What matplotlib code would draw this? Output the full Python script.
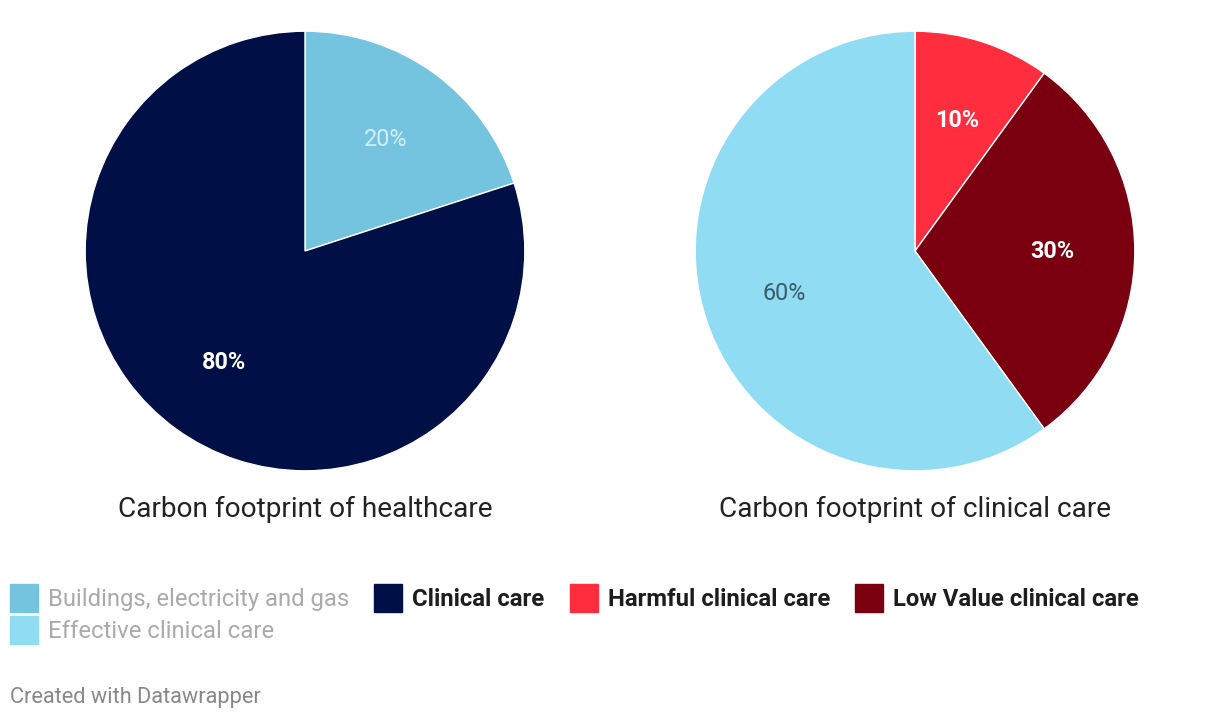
import matplotlib
matplotlib.use("Agg")
import matplotlib.pyplot as plt
from matplotlib.patches import Rectangle

plt.rcParams["font.family"] = ["Roboto", "DejaVu Sans"]

# left pie: carbon footprint of healthcare
health_labels = ["Buildings, electricity and gas", "Clinical care"]
health_values = [20, 80]
health_colors = ["#74c4df", "#000f45"]
health_text = ["#d4eef7", "#ffffff"]
health_bold = [False, True]

# right pie: carbon footprint of clinical care
clinical_labels = ["Harmful clinical care", "Low Value clinical care", "Effective clinical care"]
clinical_values = [10, 30, 60]
clinical_colors = ["#ff2d3e", "#7a0010", "#8fdcf3"]
clinical_text = ["#ffffff", "#ffffff", "#3c5a68"]
clinical_bold = [True, True, False]

titles = ["Carbon footprint of healthcare", "Carbon footprint of clinical care"]

W, H = 1220, 720
fig = plt.figure(figsize=(W / 100, H / 100), dpi=100)
fig.patch.set_facecolor("white")


def px_box(cx, cy, r):
    return [(cx - r) / W, (H - cy - r) / H, 2 * r / W, 2 * r / H]


def draw_pie(cx, values, colors, tcolors, bold, title):
    ax = fig.add_axes(px_box(cx, 251, 222))
    wedges, texts, autotexts = ax.pie(
        values, colors=colors, startangle=90, counterclock=False,
        autopct="%d%%", pctdistance=0.625,
        wedgeprops=dict(edgecolor="white", linewidth=1),
    )
    for t, c, b in zip(autotexts, tcolors, bold):
        t.set_color(c)
        t.set_fontsize(16.8)
        t.set_fontweight("bold" if b else "normal")
    ax.set_xlim(-1.01, 1.01)
    ax.set_ylim(-1.01, 1.01)
    ax.set_aspect("equal")
    fig.text(cx / W, (H - 509) / H, title, ha="center", va="center",
             fontsize=20.2, color="#222222")


draw_pie(305, health_values, health_colors, health_text, health_bold, titles[0])
draw_pie(915, clinical_values, clinical_colors, clinical_text, clinical_bold, titles[1])

# legend, laid out as a flow of items
legend_items = [
    (health_labels[0], health_colors[0], False),
    (health_labels[1], health_colors[1], True),
    (clinical_labels[0], clinical_colors[0], True),
    (clinical_labels[1], clinical_colors[1], True),
]
second_row = [(clinical_labels[2], clinical_colors[2], False)]

fig.canvas.draw()
renderer = fig.canvas.get_renderer()


def legend_row(items, y_top):
    x = 10
    for label, color, strong in items:
        fig.patches.append(Rectangle((x / W, (H - y_top - 28) / H), 28 / W, 28 / H,
                                     transform=fig.transFigure, color=color, figure=fig))
        t = fig.text((x + 38) / W, (H - y_top - 15.5) / H, label, ha="left", va="center",
                     fontsize=17.2, color="#1d1d1d" if strong else "#aaaaaa",
                     fontweight="bold" if strong else "normal")
        w = t.get_window_extent(renderer).width
        x = x + 38 + w + 25


legend_row(legend_items, 584)
legend_row(second_row, 616)

fig.text(10 / W, (H - 697) / H, "Created with Datawrapper", ha="left", va="center",
         fontsize=15.7, color="#888888")

fig.savefig("out.png", dpi=100, facecolor="white")
